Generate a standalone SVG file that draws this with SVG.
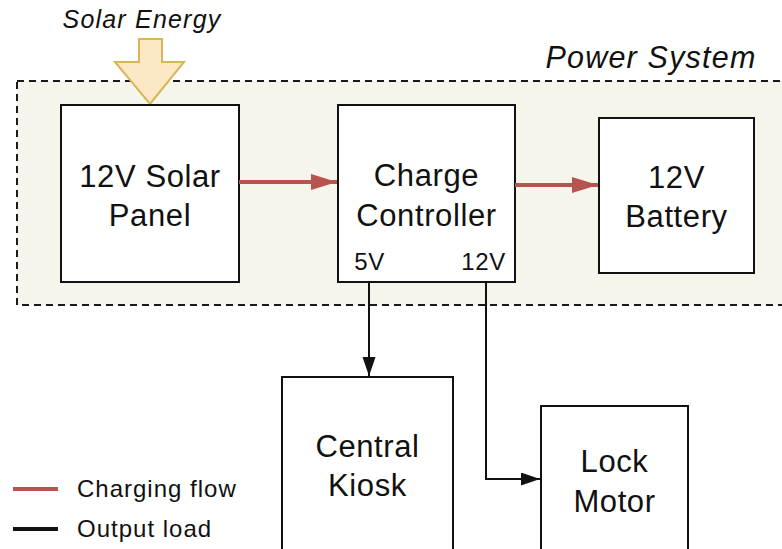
<svg xmlns="http://www.w3.org/2000/svg" width="782" height="549" viewBox="0 0 782 549">
<style>
.bg{fill:#ffffff}
.grp{fill:#f5f5eb;stroke:#1a1a1a;stroke-width:2;stroke-dasharray:7 5}
.box{fill:#ffffff;stroke:#111111;stroke-width:2}
.t{font-family:"Liberation Sans",Arial,Helvetica,sans-serif;fill:#111111;text-anchor:middle}
.big{font-size:31px;letter-spacing:0.6px}
.mid{font-size:24px;letter-spacing:0.6px}
.leg{font-size:24px;letter-spacing:1px}
.it{font-style:italic}
.red{fill:none;stroke:#b85450;stroke-width:4}
.blk{fill:none;stroke:#111111;stroke-width:2}
</style>
<defs>
<marker id="mr" markerUnits="userSpaceOnUse" markerWidth="27" markerHeight="17" refX="26" refY="8" orient="auto">
<path d="M0,0 L26,8 L0,16 z" fill="#b85450"/>
</marker>
<marker id="mb" markerUnits="userSpaceOnUse" markerWidth="20" markerHeight="14" refX="19" refY="6.5" orient="auto">
<path d="M0,0 L19,6.5 L0,13 z" fill="#111111"/>
</marker>
</defs>
<rect class="bg" x="0" y="0" width="782" height="549"/>
<g id="power-system">
<rect class="grp" x="17" y="81" width="800" height="224"/>
<text class="t it" x="651" y="68" style="font-size:30.5px;letter-spacing:1.2px">Power System</text>
</g>
<g id="solar-energy">
<path d="M139,39 H162 V62 H184 L150,104 L115,62 H139 Z" fill="#fce8c4" stroke="#d6b656" stroke-width="2"/>
<text class="t it" x="142" y="28" style="font-size:25px;letter-spacing:1.2px">Solar Energy</text>
</g>
<g id="solar-panel">
<rect class="box" x="61" y="105" width="178" height="177"/>
<text class="t big" x="150" y="187">12V Solar</text>
<text class="t big" x="150" y="226">Panel</text>
</g>
<g id="charge-controller">
<rect class="box" x="338" y="105" width="177" height="177"/>
<text class="t big" x="426.5" y="186">Charge</text>
<text class="t big" x="426.5" y="226">Controller</text>
<text class="t mid" x="369.5" y="270">5V</text>
<text class="t mid" x="483.5" y="270">12V</text>
</g>
<g id="battery">
<rect class="box" x="599" y="118" width="155" height="155"/>
<text class="t big" x="676.5" y="188">12V</text>
<text class="t big" x="676.5" y="227">Battery</text>
</g>
<g id="central-kiosk">
<rect class="box" x="282" y="377" width="171" height="190"/>
<text class="t big" x="367.5" y="457">Central</text>
<text class="t big" x="367.5" y="496">Kiosk</text>
</g>
<g id="lock-motor">
<rect class="box" x="541" y="406" width="147" height="160"/>
<text class="t big" x="614.5" y="472">Lock</text>
<text class="t big" x="614.5" y="512">Motor</text>
</g>
<g id="connectors">
<path class="red" d="M239,182 H337" marker-end="url(#mr)"/>
<path class="red" d="M515,185 H598" marker-end="url(#mr)"/>
<path class="blk" d="M369,282 V376" marker-end="url(#mb)"/>
<path class="blk" d="M486,282 V479 H540" marker-end="url(#mb)"/>
</g>
<g id="legend">
<line x1="13" y1="489" x2="58" y2="489" stroke="#b85450" stroke-width="4"/>
<line x1="13" y1="529" x2="58" y2="529" stroke="#111111" stroke-width="4"/>
<text class="t leg" x="77" y="497" style="text-anchor:start">Charging flow</text>
<text class="t leg" x="77" y="537" style="text-anchor:start">Output load</text>
</g>
</svg>
